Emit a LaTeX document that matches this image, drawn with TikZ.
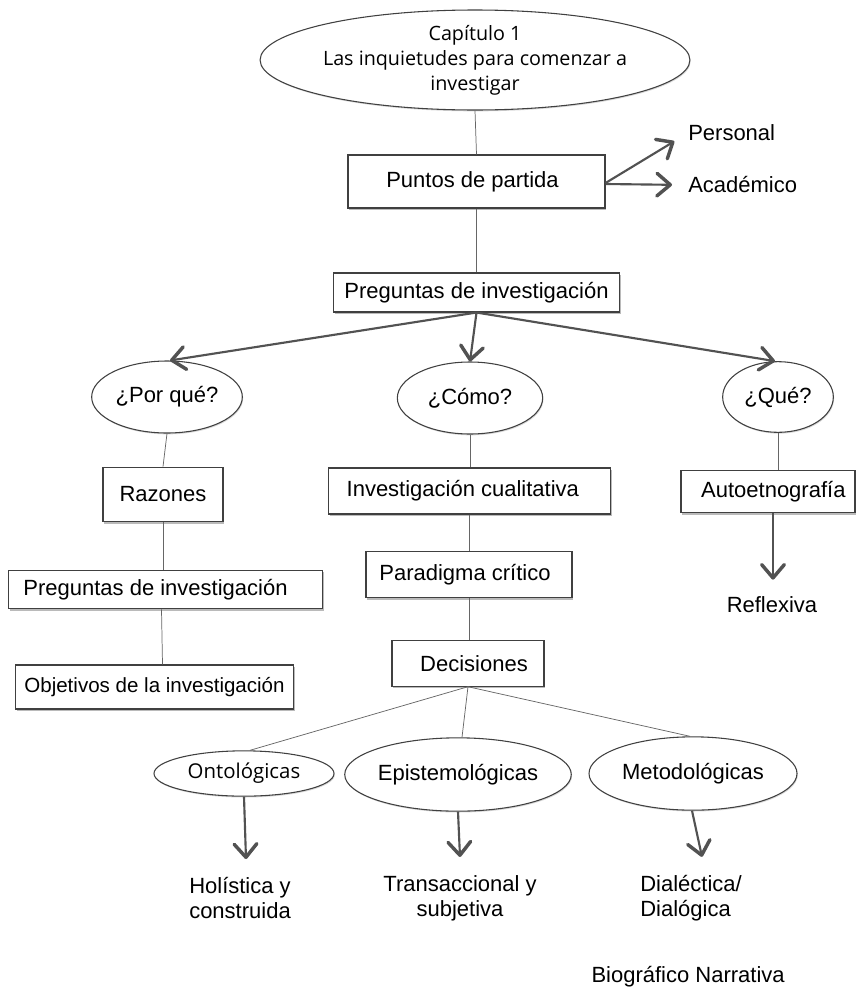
\documentclass[tikz,border=0pt]{standalone}
\usepackage{fontspec}
\setmainfont{Liberation Sans}
\newfontfamily\osans{Open Sans}
\usetikzlibrary{shapes.geometric,arrows.meta,shadows,calc}
\begin{document}
\begin{tikzpicture}[x=0.75pt,y=-0.75pt,
  box/.style={draw=black!75, line width=0.8pt, fill=white, rectangle, inner sep=0pt,
    font=\fontsize{16.5}{20}\selectfont,
    drop shadow={shadow xshift=1pt, shadow yshift=-1.6pt, fill=black!45, opacity=0.6}},
  oval/.style={draw=black!75, line width=0.8pt, fill=white, ellipse, inner sep=0pt,
    font=\fontsize{16.5}{20}\selectfont,
    drop shadow={shadow xshift=0.6pt, shadow yshift=-1pt, fill=black!30, opacity=0.5}},
  osfont/.style={font=\osans\fontsize{14.8}{18.75}\selectfont},
  lbl/.style={font=\fontsize{16.5}{18.75}\selectfont, inner sep=0pt},
  link/.style={draw=black!60, line width=0.55pt},
  arr/.style={draw=black!68, line width=1.6pt,
    -{Straight Barb[length=10pt,width=17pt,line width=2.6pt,round]}},
]
\useasboundingbox (0,0) rectangle (856,989);

% --- nodes ---
\node[oval, osfont, align=center, minimum width=270pt, minimum height=75pt] (top) at (475,60)
  {Capítulo 1\\Las inquietudes para comenzar a\\investigar};
\node[box, minimum width=192.75pt, minimum height=39.75pt] (puntos) at (476.5,181.5)
  {Puntos de partida\hspace*{6pt}};
\node[box, minimum width=215pt, minimum height=29.25pt] (preg) at (476.5,292.5)
  {Preguntas de investigación};

\node[oval, minimum width=113pt, minimum height=54pt] (porque) at (167,397) {¿Por qué?};
\node[oval, minimum width=109pt, minimum height=54pt] (como) at (470,398) {¿Cómo?};
\node[oval, minimum width=83pt, minimum height=53pt] (que) at (778,397) {¿Qué?};

\node[box, minimum width=90pt, minimum height=41pt] (razones) at (163,494.5) {Razones};
\node[box, minimum width=235pt, minimum height=29pt] (preg2) at (165.5,589.5)
  {Preguntas de investigación\hspace*{15pt}};
\node[box, minimum width=209pt, minimum height=33pt, font=\fontsize{15.4}{18}\selectfont] (objetivos) at (154.5,687)
  {Objetivos de la investigación};

\node[box, minimum width=211pt, minimum height=34.5pt] (invcual) at (469.5,491)
  {Investigación cualitativa\hspace*{10pt}};
\node[box, minimum width=154.5pt, minimum height=35pt] (paradigma) at (469,574.5)
  {Paradigma crítico\hspace*{6pt}};
\node[box, minimum width=114pt, minimum height=34pt] (decisiones) at (468,663.5)
  {\hspace*{9pt}Decisiones};

\node[box, minimum width=130.5pt, minimum height=32pt] (autoetno) at (768,491.5)
  {\hspace*{8pt}Autoetnografía};
\node[lbl] (reflexiva) at (772,605) {Reflexiva};

\node[oval, font=\osans\fontsize{15.3}{18}\selectfont, minimum width=135pt, minimum height=34pt] (onto) at (244,773.5) {Ontológicas};
\node[oval, minimum width=150pt, minimum height=55pt] (epist) at (458,774.5) {Epistemológicas};
\node[oval, minimum width=156pt, minimum height=55pt] (metod) at (693,773.5) {Metodológicas};

\node[lbl, anchor=west] (personal) at (688,133) {Personal};
\node[lbl, anchor=west] (acad) at (688,185) {Académico};

\node[lbl, align=center] (holis) at (240,898) {Holística y\\construida};
\node[lbl, align=center] (trans) at (460,898) {Transaccional y\\subjetiva};
\node[lbl, align=left, anchor=west] (dial) at (640,898) {Dialéctica/\\Dialógica};
\node[lbl, anchor=east] (bio) at (785,977) {Biográfico Narrativa};

% --- thin connectors ---
\draw[link] (top.south) -- (puntos.north);
\draw[link] (puntos.south) -- (preg.north);
\draw[link] (porque.south) -- (razones.north);
\draw[link] (razones.south) -- (razones.south |- preg2.north);
\draw[link] ($(preg2.south)+(-4,0)$) -- ($(objetivos.north)+(8,0)$);
\draw[link] (como.south) -- (como.south |- invcual.north);
\draw[link] (invcual.south) -- (invcual.south |- paradigma.north);
\draw[link] (paradigma.south) -- (paradigma.south |- decisiones.north);
\draw[link] (que.south) -- (que.south |- autoetno.north);
\draw[link] (decisiones.south) -- ($(onto.north)+(6,0)$);
\draw[link] (decisiones.south) -- ($(epist.north)+(4,0)$);
\draw[link] (decisiones.south) -- ($(metod.north)+(-3,0)$);

% --- arrows ---
\draw[arr, shorten >=12pt] ($(puntos.east)+(0,1.5)$) -- (personal.west);
\draw[arr, shorten >=12pt] ($(puntos.east)+(0,2.5)$) -- (acad.west);
\draw[arr] (preg.south) -- ($(porque.north)+(3,0)$);
\draw[arr] (preg.south) -- (como.north);
\draw[arr] (preg.south) -- ($(que.north)+(-3,0)$);
\draw[arr] ($(autoetno.south)+(5,0)$) -- ($(reflexiva.north)+(1,-17)$);
\draw[arr] (onto.south) -- ($(holis.north)+(6,-18)$);
\draw[arr] (epist.south) -- ($(trans.north)+(0,-18)$);
\draw[arr] ($(metod.south)+(-1,0)$) -- ($(dial.north)+(11,-18)$);
\end{tikzpicture}
\end{document}
